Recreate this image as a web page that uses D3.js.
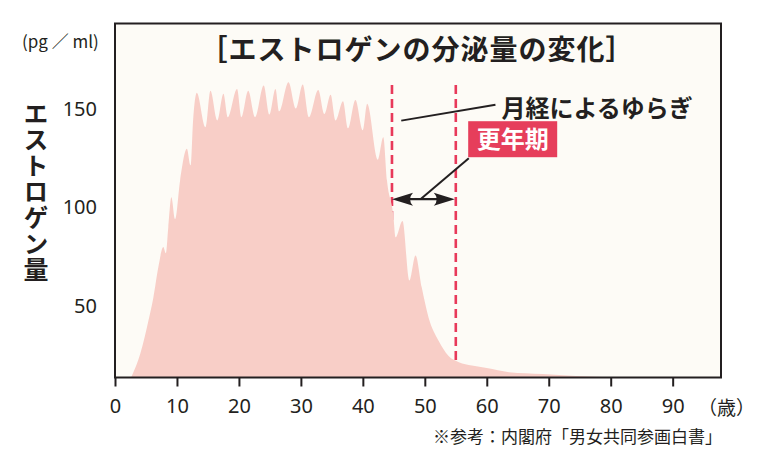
<!DOCTYPE html>
<html><head><meta charset="utf-8">
<script src="https://cdn.jsdelivr.net/npm/d3@7/dist/d3.min.js"></script>
<style>
html,body{margin:0;padding:0;background:#fff;}
svg{display:block;}
</style></head>
<body>
<svg id="chart" width="760" height="467"></svg>
<script>
// ---- data ----
const ages = [2.6, 4.1, 5.4, 6.2, 7.0, 7.8, 8.2, 8.6, 9.1, 9.7, 10.5, 11.6, 12.2, 12.6, 13.2, 14.6, 15.4, 16.5, 17.5, 18.2, 19.7, 20.4, 21.5, 22.6, 24.0, 24.9, 25.9, 26.5, 28.0, 29.2, 30.3, 31.3, 32.8, 33.8, 34.8, 35.6, 36.8, 37.6, 38.8, 40.0, 40.7, 42.4, 43.3, 43.9, 44.9, 45.3, 46.4, 47.5, 48.5, 49.5, 50.6, 52.2, 53.8, 55.5, 57.6, 60.0, 63.6, 69.0, 74.4, 78.7, 81.0];
const estrogen = [13.5, 25.8, 42.4, 54.3, 69.6, 79.7, 76.6, 89.8, 105, 94, 113.4, 129.6, 121.2, 144, 158, 140.5, 159, 144, 157.5, 145.6, 160, 145.6, 159, 145.6, 161.7, 147, 160, 148.6, 163.4, 150, 162.2, 145.6, 159.5, 147.3, 157, 144, 153.7, 140, 154.4, 139, 152.4, 124, 135.5, 113.4, 96.6, 84.7, 93, 62.7, 75.4, 59.3, 44, 32.3, 24.6, 21.3, 19.6, 18.3, 16.2, 15.3, 14.3, 13.8, 13.5];
const xTicks = [0, 10, 20, 30, 40, 50, 60, 70, 80, 90];
const yTicks = [50, 100, 150];
const menopause = [44.7, 55];
const title = "［エストロゲンの分泌量の変化］";
const yTitle = "エストロゲン量";
const unitLabel = "(pg ／ ml)";
const xUnit = "（歳）";
const fluctLabel = "月経によるゆらぎ";
const menoLabel = "更年期";
const source = "※参考：内閣府「男女共同参画白書」";

// ---- layout ----
const L = 115, R = 721, T = 23.5, B = 377.5;
const x = d3.scaleLinear().domain([0, 97.8]).range([L, R]);
const y = d3.scaleLinear().domain([13.5, 193.2]).range([B, T]);
const svg = d3.select("#chart");
const ink = "#231f20";
const cjk = "'Noto Sans CJK JP', 'Noto Sans', sans-serif";
const num = "'Noto Sans', 'Open Sans', sans-serif";
const red = "#e8395a";

// plot background
svg.append("rect").attr("x", L).attr("y", T).attr("width", R - L).attr("height", B - T)
  .attr("fill", "#fdfbf6");

// dashed menopause lines (behind area)
svg.selectAll("line.dash").data(menopause).join("line").attr("class", "dash")
  .attr("x1", d => x(d)).attr("x2", d => x(d))
  .attr("y1", y(162)).attr("y2", B)
  .attr("stroke", red).attr("stroke-width", 2.6).attr("stroke-dasharray", "9,5");

// area
const pts = ages.map((a, i) => [a, estrogen[i]]);
const area = d3.area().x(d => x(d[0])).y0(B).y1(d => y(d[1])).curve(d3.curveMonotoneX);
svg.append("path").datum(pts).attr("d", area).attr("fill", "#f8cec7");

// frame
svg.append("rect").attr("x", L).attr("y", T).attr("width", R - L).attr("height", B - T)
  .attr("fill", "none").attr("stroke", ink).attr("stroke-width", 2);

// x axis
const xa = svg.append("g").attr("transform", `translate(0,${B})`)
  .call(d3.axisBottom(x).tickValues(xTicks).tickSize(9).tickPadding(12).tickFormat(d3.format("d")));
xa.select(".domain").remove();
xa.selectAll(".tick line").attr("stroke", ink).attr("stroke-width", 2);
xa.selectAll(".tick text").attr("font-family", num).attr("font-size", 20).attr("fill", ink);

// y axis
const ya = svg.append("g").attr("transform", `translate(${L},0)`)
  .call(d3.axisLeft(y).tickValues(yTicks).tickSize(0).tickPadding(18));
ya.select(".domain").remove();
ya.selectAll(".tick text").attr("font-family", num).attr("font-size", 20).attr("fill", ink);

// x unit
svg.append("text").attr("x", 698).attr("y", B + 37).attr("font-family", cjk)
  .attr("font-size", 19).attr("fill", ink).text(xUnit);

// unit label
svg.append("text").attr("x", 22).attr("y", 48).attr("font-family", cjk)
  .attr("font-size", 17).attr("fill", ink).text(unitLabel);

// y title (vertical)
svg.append("text").attr("x", 36).attr("y", 101).attr("font-family", cjk)
  .attr("font-size", 25).attr("font-weight", 700).attr("fill", ink)
  .attr("writing-mode", "vertical-rl").attr("text-orientation", "upright")
  .style("letter-spacing", "1px").text(yTitle);

// title
svg.append("text").attr("x", 417).attr("y", 60).attr("text-anchor", "middle")
  .attr("font-family", cjk).attr("font-size", 28).attr("font-weight", 700).attr("fill", ink)
  .style("letter-spacing", "1px").text(title);

// fluctuation leader + label
svg.append("line").attr("x1", x(46.2)).attr("y1", y(143.9)).attr("x2", x(61.4)).attr("y2", y(152))
  .attr("stroke", ink).attr("stroke-width", 2);
svg.append("text").attr("x", x(61.4) + 6).attr("y", y(152) + 12)
  .attr("font-family", cjk).attr("font-size", 24).attr("font-weight", 700).attr("fill", ink)
  .text(fluctLabel);

// menopause arrow
const ay = y(104);
svg.append("line").attr("x1", x(menopause[0]) + 8).attr("x2", x(menopause[1]) - 8)
  .attr("y1", ay).attr("y2", ay).attr("stroke", ink).attr("stroke-width", 2.2);
const head = "M0,0 L-21,-6.5 Q-15,0 -21,6.5 Z";
svg.append("path").attr("d", head).attr("fill", ink)
  .attr("transform", `translate(${x(menopause[0])},${ay}) rotate(180)`);
svg.append("path").attr("d", head).attr("fill", ink)
  .attr("transform", `translate(${x(menopause[1]) - 1},${ay})`);
svg.append("line").attr("x1", x(49.3)).attr("y1", ay).attr("x2", x(57.1)).attr("y2", y(124.8))
  .attr("stroke", ink).attr("stroke-width", 2);

// menopause label box
const bx = x(57), by = y(143.6);
svg.append("rect").attr("x", bx).attr("y", by).attr("width", 89).attr("height", 36).attr("fill", "#e63e5b");
svg.append("text").attr("x", bx + 44.5).attr("y", by + 27).attr("text-anchor", "middle")
  .attr("font-family", cjk).attr("font-size", 24).attr("font-weight", 700).attr("fill", "#fff")
  .text(menoLabel);

// source
svg.append("text").attr("x", 722).attr("y", 443).attr("text-anchor", "end")
  .attr("font-family", cjk).attr("font-size", 17).attr("fill", ink).text(source);
</script>
</body></html>
